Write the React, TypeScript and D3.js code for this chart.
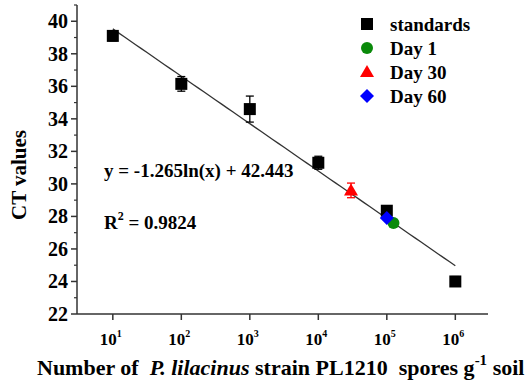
import * as d3 from 'd3';

// standards
const stdX = [10, 100, 1000, 10000, 100000, 1000000];
const stdY = [39.1, 36.15, 34.6, 31.3, 28.35, 24.0];
const stdErr = [0.3, 0.45, 0.8, 0.4, 0.3, 0.3];

// soil samples
const dayLabels = ['Day 1', 'Day 30', 'Day 60'];
const dayX = [125000, 30000, 100000];
const dayY = [27.6, 29.6, 27.9];
const dayErr = [0.1, 0.45, 0.1];
const dayColors = ['#0a8a0a', '#ff0000', '#0000ff'];
const dayShapes = ['circle', 'triangle', 'diamond'];

const slope = -1.265;
const intercept = 42.443;
const fitRange = [10, 1000000];

const yTicks = [22, 24, 26, 28, 30, 32, 34, 36, 38, 40];
const yMinor = [23, 25, 27, 29, 31, 33, 35, 37, 39, 41];
const xTicks = [1, 2, 3, 4, 5, 6];

const W = 531;
const H = 381;
const margin = { top: 5, right: 43, bottom: 67, left: 77 };
const font = '"Liberation Serif", "Times New Roman", serif';

const Marker = ({ shape, x, y, color }: { shape: string; x: number; y: number; color: string }) => {
  if (shape === 'circle') return <circle cx={x} cy={y} r={6} fill={color} />;
  if (shape === 'triangle')
    return <path d={`M${x},${y - 7}L${x + 7},${y + 5}L${x - 7},${y + 5}Z`} fill={color} />;
  if (shape === 'diamond')
    return <path d={`M${x},${y - 7}L${x + 7},${y}L${x},${y + 7}L${x - 7},${y}Z`} fill={color} />;
  return <rect x={x - 6} y={y - 6} width={12} height={12} fill={color} />;
};

const ErrBar = ({ x, y0, y1, color }: { x: number; y0: number; y1: number; color: string }) => (
  <g stroke={color} strokeWidth={1.3}>
    <line x1={x} x2={x} y1={y0} y2={y1} />
    <line x1={x - 4} x2={x + 4} y1={y0} y2={y0} />
    <line x1={x - 4} x2={x + 4} y1={y1} y2={y1} />
  </g>
);

export default function App() {
  const x = d3.scaleLog().domain([3, 3e6]).range([margin.left, W - margin.right]);
  const y = d3.scaleLinear().domain([22, 41]).range([H - margin.bottom, margin.top]);

  const fit = d3.range(0, 61).map((i) => {
    const v = Math.pow(10, Math.log10(fitRange[0]) + (i / 60) * (Math.log10(fitRange[1]) - Math.log10(fitRange[0])));
    return [v, slope * Math.log(v) + intercept];
  });
  const line = d3.line<number[]>().x((d) => x(d[0])).y((d) => y(d[1]));

  const x0 = margin.left;
  const yb = H - margin.bottom;
  const axisColor = '#333';

  const legendItems = [
    { label: 'standards', shape: 'square', color: '#000' },
    ...dayLabels.map((l, i) => ({ label: l, shape: dayShapes[i], color: dayColors[i] })),
  ];

  return (
    <svg width={W} height={H} style={{ position: 'absolute', left: 0, top: 0, background: '#fff' }} fontFamily={font} fontWeight="bold">
      {/* axes */}
      <line x1={x0} x2={x0} y1={margin.top} y2={yb} stroke={axisColor} strokeWidth={1.5} />
      <line x1={x0} x2={W - margin.right} y1={yb} y2={yb} stroke={axisColor} strokeWidth={1.5} />
      {yTicks.map((t) => (
        <g key={t}>
          <line x1={x0 - 6} x2={x0} y1={y(t)} y2={y(t)} stroke={axisColor} strokeWidth={1.5} />
          <text x={x0 - 9} y={y(t)} dy="0.35em" textAnchor="end" fontSize={20}>
            {t}
          </text>
        </g>
      ))}
      {yMinor.map((t) => (
        <line key={t} x1={x0 - 3} x2={x0} y1={y(t)} y2={y(t)} stroke={axisColor} strokeWidth={1.2} />
      ))}
      {xTicks.map((p) => (
        <g key={p}>
          <line x1={x(Math.pow(10, p))} x2={x(Math.pow(10, p))} y1={yb} y2={yb + 6} stroke={axisColor} strokeWidth={1.5} />
          <text x={x(Math.pow(10, p)) - 2} y={yb + 31} textAnchor="middle" fontSize={17}>
            10
            <tspan fontSize={10} dy={-8}>{p}</tspan>
          </text>
        </g>
      ))}

      {/* fit line */}
      <path d={line(fit) ?? ''} fill="none" stroke="#333" strokeWidth={1.3} />

      {/* standards */}
      {stdX.map((v, i) => (
        <g key={v}>
          <ErrBar x={x(v)} y0={y(stdY[i] + stdErr[i])} y1={y(stdY[i] - stdErr[i])} color="#000" />
          <Marker shape="square" x={x(v)} y={y(stdY[i])} color="#000" />
        </g>
      ))}
      {/* soil samples */}
      {dayX.map((v, i) => (
        <g key={dayLabels[i]}>
          <ErrBar x={x(v)} y0={y(dayY[i] + dayErr[i])} y1={y(dayY[i] - dayErr[i])} color={dayColors[i]} />
          <Marker shape={dayShapes[i]} x={x(v)} y={y(dayY[i])} color={dayColors[i]} />
        </g>
      ))}

      {/* legend */}
      {legendItems.map((d, i) => (
        <g key={d.label}>
          <Marker shape={d.shape} x={367} y={24 + i * 24} color={d.color} />
          <text x={390} y={24 + i * 24} dy="0.35em" fontSize={19}>
            {d.label}
          </text>
        </g>
      ))}

      {/* equation */}
      <text x={104} y={177} fontSize={19}>
        y = -1.265ln(x) + 42.443
      </text>
      <text x={104} y={229} fontSize={19}>
        R<tspan fontSize={12} dy={-9}>2</tspan>
        <tspan dy={9}> = 0.9824</tspan>
      </text>

      {/* axis titles */}
      <text transform={`translate(26,175) rotate(-90)`} textAnchor="middle" fontSize={21}>
        CT values
      </text>
      <text x={37} y={375} fontSize={22} style={{ whiteSpace: 'pre' }}>
        {'Number of  '}
        <tspan fontStyle="italic">P. lilacinus</tspan>
        {' strain PL1210  spores g'}
        <tspan fontSize={15} dy={-10}>-1</tspan>
        <tspan dy={10}>{' soil'}</tspan>
      </text>
    </svg>
  );
}
